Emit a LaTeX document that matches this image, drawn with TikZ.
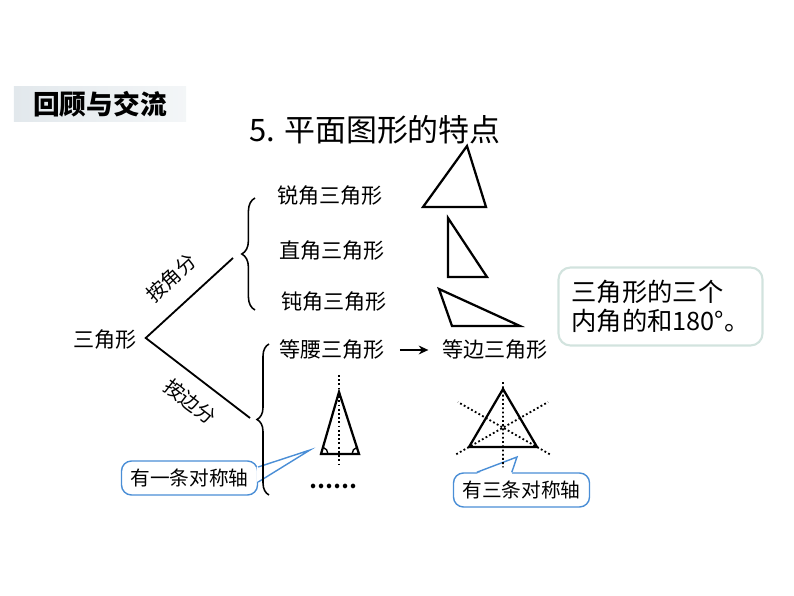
\documentclass[tikz,border=0pt]{standalone}
\usepackage{fontspec}
\setmainfont{Noto Sans CJK SC}
\usetikzlibrary{arrows.meta,calc,decorations.pathreplacing}
\definecolor{blau}{HTML}{4A8ED6}
\definecolor{rahmen}{HTML}{D2E3DE}
\definecolor{band}{HTML}{E2E8EC}
\tikzset{
  txt/.style={font=\fontsize{15}{18}\selectfont,inner sep=2pt},
  klein/.style={font=\fontsize{14}{16}\selectfont,inner sep=1pt},
  ast/.style={black,line width=1.3pt,line join=miter},
  klammer/.style={black,line width=1.1pt,decorate,decoration={brace,amplitude=#1}},
  dreieck/.style={black,line width=1.6pt,line join=miter},
  achse/.style={black,line width=1.3pt,dash pattern=on 1.3pt off 1.7pt},
  winkelbogen/.style={black,line width=1pt},
  blase/.style={draw=blau,line width=1pt,fill=white,rounded corners=2.5mm,
    minimum width=3.4cm,minimum height=0.85cm,font=\fontsize{14}{16}\selectfont},
  zeiger/.style={blau,line width=1pt},
  pfeil/.style={-{Stealth[length=2.4mm,width=2.2mm]},black,line width=1.2pt},
}
\begin{document}
\begin{tikzpicture}[x=0.025cm,y=-0.025cm]
  \useasboundingbox (0,0) rectangle (794,596);
  \node[left color=band,right color=band!40,minimum width=4.3cm,minimum height=0.8cm,
    font=\fontsize{19}{20}\selectfont\bfseries] (kopf) at (100,104) {回顾与交流};
  \node[font=\fontsize{22}{24}\selectfont] (titel) at (375,130) {5. 平面图形的特点};

  \node[blase] (eins) at (189.5,478) {有一条对称轴};
  \coordinate (eins spitze) at (310,450);
  \fill[white] ($(eins.east)+(-1.5,-11)$) -- (eins spitze) -- ($(eins.east)+(-1.5,4)$) -- cycle;
  \draw[zeiger] ($(eins.east)+(0,-11)$) -- (eins spitze) -- ($(eins.east)+(0,4)$);
  \node[blase] (drei) at (521.5,490) {有三条对称轴};
  \coordinate (drei spitze) at (517,457);
  \fill[white] ($(drei.north west)+(24,1.5)$) -- (drei spitze) -- ($(drei.north west)+(59,1.5)$) -- cycle;
  \draw[zeiger] ($(drei.north west)+(24,0)$) -- (drei spitze) -- ($(drei.north west)+(59,0)$);

  \node[txt] (sanj) at (105,340) {三角形};
  \coordinate (wurzel) at ($(sanj.east)+(6,-2)$);
  \coordinate (winkel) at (233,258);
  \coordinate (seite) at (250,418);
  \draw[ast] (winkel) -- (wurzel) -- (seite);
  \node[klein,rotate=42.6] (nachw) at (171,278) {按角分};
  \node[klein,rotate=-37.6] (nachs) at (190,402) {按边分};
  \draw[klammer=0.33cm] (255,310) -- (255,198);
  \draw[klammer=0.3cm] (269,495) -- (269,344);

  \node[txt] (spitz) at (330,196) {锐角三角形};
  \node[txt] (recht) at (332,251) {直角三角形};
  \node[txt] (stumpf) at (334,302) {钝角三角形};
  \node[txt] (schenkel) at (332,350) {等腰三角形};
  \node[txt] (gleich) at (495,350) {等边三角形};
  \draw[pfeil,shorten <=0.3cm,shorten >=0.27cm] (schenkel) -- (gleich);

  \draw[dreieck] (423,207) -- (467,146) -- (486,207) -- cycle;
  \draw[dreieck] (448,218) -- (448,277) -- (487,277) -- cycle;
  \draw[dreieck] (439,289) -- (452,326) -- (520,326) -- cycle;

  \coordinate (ia) at (339,392);
  \coordinate (ib) at (321,454);
  \coordinate (ic) at (359,454);
  \draw[achse] (339,375) -- (339,467);
  \draw[dreieck] (ia) -- (ib) -- (ic) -- cycle;
  \draw[winkelbogen] ($(ib)+(7,0)$) arc[start angle=0,end angle=-74,radius=7];
  \draw[winkelbogen] ($(ic)+(-7,0)$) arc[start angle=180,end angle=254,radius=7];
  \node[txt,font=\fontsize{15}{18}\selectfont\bfseries] (usw) at (333,486) {……};

  \coordinate (ga) at (503,389);
  \coordinate (gb) at (469,447);
  \coordinate (gc) at (537,447);
  \coordinate (mbc) at ($(gb)!0.5!(gc)$);
  \coordinate (mac) at ($(ga)!0.5!(gc)$);
  \coordinate (mab) at ($(ga)!0.5!(gb)$);
  \draw[achse] ($(ga)!-0.12!(mbc)$) -- ($(ga)!1.35!(mbc)$);
  \draw[achse] ($(gb)!-0.25!(mac)$) -- ($(gb)!1.55!(mac)$);
  \draw[achse] ($(gc)!-0.25!(mab)$) -- ($(gc)!1.55!(mab)$);
  \draw[dreieck] (ga) -- (gb) -- (gc) -- cycle;

  \node[draw=rahmen,line width=1.5pt,rounded corners=3mm,minimum width=5.1cm,minimum height=1.95cm,
    align=left,font=\fontsize{18}{21}\selectfont] (summe) at (660.5,306.5) {三角形的三个\\内角的和180°。};
\end{tikzpicture}
\end{document}
